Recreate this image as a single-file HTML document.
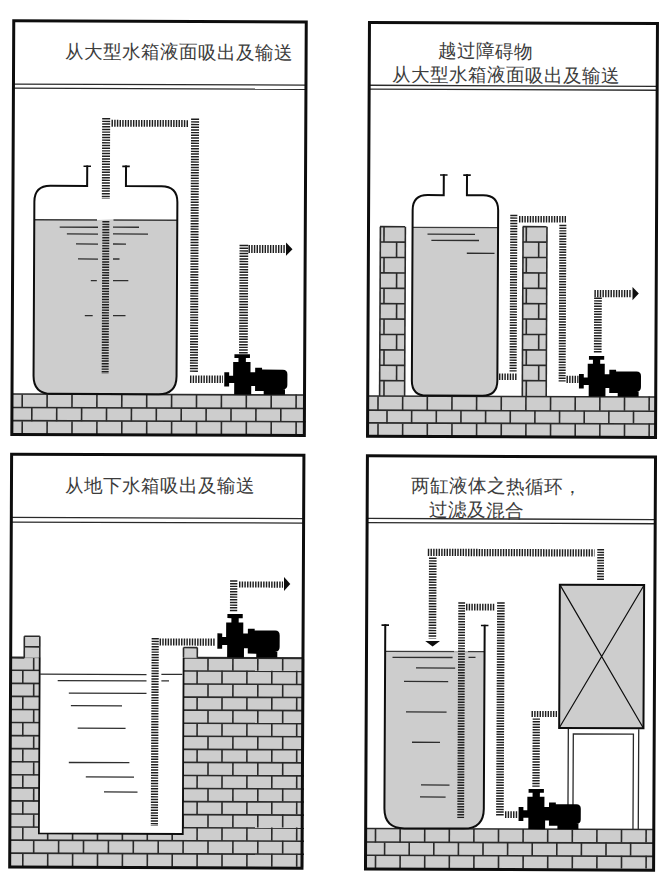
<!DOCTYPE html>
<html><head><meta charset="utf-8"><style>
html,body{margin:0;padding:0;background:#fff;width:669px;height:879px;overflow:hidden}
svg{display:block}
.t{font-family:"Liberation Sans",sans-serif;fill:#3c3c3c}
</style></head><body>
<svg width="669" height="879" viewBox="0 0 669 879">
<defs>
<g id="pump"><path d="M9.9,0 H25.2 V3.8 H21.2 V7.8 H25.8 V18 H30.4 V13.5 H37.2 V15.2 H57.7 Q62.2,15.2 62.2,19.7 V30.5 Q62.2,35 57.7,35 H59.9 V40.2 H38.9 V36.7 H30.4 V31.6 H25.8 H26.6 V40.2 H9.8 V28.8 H4.8 V32.2 H0 V18 H4.8 V21.4 H8.7 V7.8 H13.9 V3.8 H9.9 Z" fill="#000"/></g>
</defs>
<rect width="669" height="879" fill="#fff"/>
<g transform="matrix(1,0.0038,-0.0047,1,1.073,-0.604)">
<line x1="12.33" y1="84.60" x2="304.33" y2="84.60" stroke="#2a2a2a" stroke-width="1.3"/>
<line x1="12.34" y1="88.70" x2="304.34" y2="88.70" stroke="#2a2a2a" stroke-width="1.3"/>
<text x="64.16" y="58.43" class="t" style="font-size:18.6px">从大型水箱液面吸出及输送</text>
<rect x="13.38" y="394.50" width="293.00" height="40.00" fill="#cdcdcd"/>
<line x1="13.28" y1="394.50" x2="306.28" y2="394.50" stroke="#2a2a2a" stroke-width="1.6"/>
<line x1="13.35" y1="408.00" x2="306.35" y2="408.00" stroke="#2a2a2a" stroke-width="1.6"/>
<line x1="13.41" y1="421.20" x2="306.41" y2="421.20" stroke="#2a2a2a" stroke-width="1.6"/>
<line x1="23.01" y1="395.02" x2="23.01" y2="408.52" stroke="#2a2a2a" stroke-width="1.6"/>
<line x1="47.91" y1="394.93" x2="47.91" y2="408.43" stroke="#2a2a2a" stroke-width="1.6"/>
<line x1="72.81" y1="394.83" x2="72.81" y2="408.33" stroke="#2a2a2a" stroke-width="1.6"/>
<line x1="97.71" y1="394.74" x2="97.71" y2="408.24" stroke="#2a2a2a" stroke-width="1.6"/>
<line x1="122.61" y1="394.64" x2="122.61" y2="408.14" stroke="#2a2a2a" stroke-width="1.6"/>
<line x1="147.51" y1="394.55" x2="147.51" y2="408.05" stroke="#2a2a2a" stroke-width="1.6"/>
<line x1="172.41" y1="394.45" x2="172.41" y2="407.95" stroke="#2a2a2a" stroke-width="1.6"/>
<line x1="197.31" y1="394.36" x2="197.31" y2="407.86" stroke="#2a2a2a" stroke-width="1.6"/>
<line x1="222.21" y1="394.26" x2="222.21" y2="407.76" stroke="#2a2a2a" stroke-width="1.6"/>
<line x1="247.11" y1="394.17" x2="247.11" y2="407.67" stroke="#2a2a2a" stroke-width="1.6"/>
<line x1="272.01" y1="394.07" x2="272.01" y2="407.57" stroke="#2a2a2a" stroke-width="1.6"/>
<line x1="296.91" y1="393.98" x2="296.91" y2="407.48" stroke="#2a2a2a" stroke-width="1.6"/>
<line x1="32.68" y1="408.48" x2="32.68" y2="421.68" stroke="#2a2a2a" stroke-width="1.6"/>
<line x1="57.58" y1="408.39" x2="57.58" y2="421.59" stroke="#2a2a2a" stroke-width="1.6"/>
<line x1="82.48" y1="408.29" x2="82.48" y2="421.49" stroke="#2a2a2a" stroke-width="1.6"/>
<line x1="107.38" y1="408.20" x2="107.38" y2="421.40" stroke="#2a2a2a" stroke-width="1.6"/>
<line x1="132.28" y1="408.11" x2="132.28" y2="421.31" stroke="#2a2a2a" stroke-width="1.6"/>
<line x1="157.18" y1="408.01" x2="157.18" y2="421.21" stroke="#2a2a2a" stroke-width="1.6"/>
<line x1="182.08" y1="407.92" x2="182.08" y2="421.12" stroke="#2a2a2a" stroke-width="1.6"/>
<line x1="206.98" y1="407.82" x2="206.98" y2="421.02" stroke="#2a2a2a" stroke-width="1.6"/>
<line x1="231.88" y1="407.73" x2="231.88" y2="420.93" stroke="#2a2a2a" stroke-width="1.6"/>
<line x1="256.78" y1="407.63" x2="256.78" y2="420.83" stroke="#2a2a2a" stroke-width="1.6"/>
<line x1="281.68" y1="407.54" x2="281.68" y2="420.74" stroke="#2a2a2a" stroke-width="1.6"/>
<line x1="23.14" y1="421.72" x2="23.14" y2="435.02" stroke="#2a2a2a" stroke-width="1.6"/>
<line x1="48.04" y1="421.63" x2="48.04" y2="434.93" stroke="#2a2a2a" stroke-width="1.6"/>
<line x1="72.94" y1="421.53" x2="72.94" y2="434.83" stroke="#2a2a2a" stroke-width="1.6"/>
<line x1="97.84" y1="421.44" x2="97.84" y2="434.74" stroke="#2a2a2a" stroke-width="1.6"/>
<line x1="122.74" y1="421.34" x2="122.74" y2="434.64" stroke="#2a2a2a" stroke-width="1.6"/>
<line x1="147.64" y1="421.25" x2="147.64" y2="434.55" stroke="#2a2a2a" stroke-width="1.6"/>
<line x1="172.54" y1="421.15" x2="172.54" y2="434.45" stroke="#2a2a2a" stroke-width="1.6"/>
<line x1="197.44" y1="421.06" x2="197.44" y2="434.36" stroke="#2a2a2a" stroke-width="1.6"/>
<line x1="222.34" y1="420.96" x2="222.34" y2="434.26" stroke="#2a2a2a" stroke-width="1.6"/>
<line x1="247.24" y1="420.87" x2="247.24" y2="434.17" stroke="#2a2a2a" stroke-width="1.6"/>
<line x1="272.14" y1="420.77" x2="272.14" y2="434.07" stroke="#2a2a2a" stroke-width="1.6"/>
<line x1="297.04" y1="420.68" x2="297.04" y2="433.98" stroke="#2a2a2a" stroke-width="1.6"/>
<g transform="translate(0.245,0.203)">
<clipPath id="c1"><path d="M34.00,202.00 Q34.00,186.00 50.00,186.00 L161.00,186.00 Q177.00,186.00 177.00,202.00 L177.00,376.00 Q177.00,394.00 159.00,394.00 L52.00,394.00 Q34.00,394.00 34.00,376.00 Z"/></clipPath>
<rect x="33.00" y="220.00" width="145.00" height="175.00" fill="#cdcdcd" clip-path="url(#c1)"/>
<line x1="34.00" y1="220.00" x2="177.00" y2="220.00" stroke="#3a3a3a" stroke-width="1.3"/>
<path d="M86.70,165.50 L86.70,186.00 L50.00,186.00 Q34.00,186.00 34.00,202.00 L34.00,376.00 Q34.00,394.00 52.00,394.00 L159.00,394.00 Q177.00,394.00 177.00,376.00 L177.00,202.00 Q177.00,186.00 161.00,186.00 L125.50,186.00 L125.50,165.50" fill="none" stroke="#0d0d0d" stroke-width="2.0"/>
<line x1="82.95" y1="166.30" x2="90.45" y2="166.30" stroke="#0d0d0d" stroke-width="1.6"/>
<line x1="121.75" y1="166.30" x2="129.25" y2="166.30" stroke="#0d0d0d" stroke-width="1.6"/>
</g>
<g transform="translate(-0.039,0.205)"><rect x="97" y="219.1" width="16.5" height="0.9" fill="#fff"/><rect x="97" y="220" width="16.5" height="1" fill="#cdcdcd"/></g>
<line x1="59.70" y1="227.50" x2="98.00" y2="227.50" stroke="#2e2e2e" stroke-width="1.3"/>
<line x1="66.93" y1="234.29" x2="98.03" y2="234.29" stroke="#2e2e2e" stroke-width="1.3"/>
<line x1="76.07" y1="244.27" x2="98.07" y2="244.27" stroke="#2e2e2e" stroke-width="1.3"/>
<line x1="78.14" y1="259.27" x2="98.14" y2="259.27" stroke="#2e2e2e" stroke-width="1.3"/>
<line x1="91.05" y1="280.85" x2="97.05" y2="280.85" stroke="#2e2e2e" stroke-width="1.3"/>
<line x1="85.21" y1="315.97" x2="93.11" y2="315.97" stroke="#2e2e2e" stroke-width="1.3"/>
<line x1="113.00" y1="227.33" x2="139.00" y2="227.33" stroke="#2e2e2e" stroke-width="1.3"/>
<line x1="113.03" y1="234.11" x2="148.03" y2="234.11" stroke="#2e2e2e" stroke-width="1.3"/>
<line x1="113.07" y1="244.15" x2="126.07" y2="244.15" stroke="#2e2e2e" stroke-width="1.3"/>
<line x1="113.14" y1="259.16" x2="119.64" y2="259.16" stroke="#2e2e2e" stroke-width="1.3"/>
<line x1="113.25" y1="280.75" x2="128.55" y2="280.75" stroke="#2e2e2e" stroke-width="1.3"/>
<line x1="113.41" y1="315.85" x2="125.91" y2="315.85" stroke="#2e2e2e" stroke-width="1.3"/>
<line x1="105.67" y1="118.20" x2="105.67" y2="199.20" stroke="#1e1e1e" stroke-width="8.00" stroke-dasharray="1.45 1.23"/>
<line x1="105.83" y1="221.20" x2="105.83" y2="374.20" stroke="#1e1e1e" stroke-width="7.00" stroke-dasharray="1.45 1.23"/>
<line x1="111.01" y1="123.43" x2="188.51" y2="123.43" stroke="#1e1e1e" stroke-width="6.80" stroke-dasharray="1.45 1.23"/>
<line x1="194.58" y1="118.37" x2="194.58" y2="372.87" stroke="#1e1e1e" stroke-width="8.00" stroke-dasharray="1.45 1.23"/>
<line x1="190.71" y1="379.07" x2="223.71" y2="379.07" stroke="#1e1e1e" stroke-width="7.50" stroke-dasharray="1.45 1.23"/>
<line x1="243.98" y1="244.48" x2="243.98" y2="353.18" stroke="#1e1e1e" stroke-width="8.70" stroke-dasharray="1.45 1.23"/>
<line x1="248.60" y1="248.59" x2="285.60" y2="248.59" stroke="#1e1e1e" stroke-width="8.00" stroke-dasharray="1.45 1.23"/>
<polygon points="286.10,242.01 292.60,248.66 286.10,255.31" fill="#0d0d0d"/>
<use href="#pump" transform="translate(224.99,353.93) scale(1.0145,1.0025)"/>
<rect x="12.79" y="21.40" width="292.50" height="413.60" fill="none" stroke="#0d0d0d" stroke-width="3"/>
</g>
<g transform="matrix(1,0.0038,-0.0047,1,1.081,-1.948)">
<line x1="368.32" y1="85.80" x2="656.32" y2="85.80" stroke="#2a2a2a" stroke-width="1.3"/>
<line x1="368.34" y1="89.70" x2="656.34" y2="89.70" stroke="#2a2a2a" stroke-width="1.3"/>
<text x="437.65" y="57.60" class="t" style="font-size:18.6px">越过障碍物</text>
<text x="391.26" y="81.53" class="t" style="font-size:18.6px">从大型水箱液面吸出及输送</text>
<rect x="380.38" y="227.16" width="25.00" height="169.40" fill="#cdcdcd"/>
<line x1="379.98" y1="227.16" x2="404.98" y2="227.16" stroke="#2a2a2a" stroke-width="1.6"/>
<line x1="380.06" y1="242.56" x2="405.06" y2="242.56" stroke="#2a2a2a" stroke-width="1.6"/>
<line x1="380.13" y1="257.96" x2="405.13" y2="257.96" stroke="#2a2a2a" stroke-width="1.6"/>
<line x1="380.20" y1="273.36" x2="405.20" y2="273.36" stroke="#2a2a2a" stroke-width="1.6"/>
<line x1="380.27" y1="288.76" x2="405.27" y2="288.76" stroke="#2a2a2a" stroke-width="1.6"/>
<line x1="380.35" y1="304.16" x2="405.35" y2="304.16" stroke="#2a2a2a" stroke-width="1.6"/>
<line x1="380.42" y1="319.56" x2="405.42" y2="319.56" stroke="#2a2a2a" stroke-width="1.6"/>
<line x1="380.49" y1="334.96" x2="405.49" y2="334.96" stroke="#2a2a2a" stroke-width="1.6"/>
<line x1="380.56" y1="350.36" x2="405.56" y2="350.36" stroke="#2a2a2a" stroke-width="1.6"/>
<line x1="380.64" y1="365.76" x2="405.64" y2="365.76" stroke="#2a2a2a" stroke-width="1.6"/>
<line x1="380.71" y1="381.16" x2="405.71" y2="381.16" stroke="#2a2a2a" stroke-width="1.6"/>
<line x1="380.38" y1="227.20" x2="380.38" y2="396.60" stroke="#2a2a2a" stroke-width="1.6"/>
<line x1="405.38" y1="227.11" x2="405.38" y2="396.51" stroke="#2a2a2a" stroke-width="1.6"/>
<line x1="384.02" y1="227.19" x2="384.02" y2="242.59" stroke="#2a2a2a" stroke-width="1.6"/>
<line x1="396.69" y1="242.54" x2="396.69" y2="257.94" stroke="#2a2a2a" stroke-width="1.6"/>
<line x1="384.17" y1="257.99" x2="384.17" y2="273.39" stroke="#2a2a2a" stroke-width="1.6"/>
<line x1="396.84" y1="273.34" x2="396.84" y2="288.74" stroke="#2a2a2a" stroke-width="1.6"/>
<line x1="384.31" y1="288.79" x2="384.31" y2="304.19" stroke="#2a2a2a" stroke-width="1.6"/>
<line x1="396.98" y1="304.14" x2="396.98" y2="319.54" stroke="#2a2a2a" stroke-width="1.6"/>
<line x1="384.46" y1="319.59" x2="384.46" y2="334.99" stroke="#2a2a2a" stroke-width="1.6"/>
<line x1="397.13" y1="334.94" x2="397.13" y2="350.34" stroke="#2a2a2a" stroke-width="1.6"/>
<line x1="384.60" y1="350.39" x2="384.60" y2="365.79" stroke="#2a2a2a" stroke-width="1.6"/>
<line x1="397.27" y1="365.74" x2="397.27" y2="381.14" stroke="#2a2a2a" stroke-width="1.6"/>
<line x1="384.74" y1="381.19" x2="384.74" y2="396.59" stroke="#2a2a2a" stroke-width="1.6"/>
<rect x="523.08" y="226.62" width="23.90" height="169.40" fill="#cdcdcd"/>
<line x1="522.68" y1="226.62" x2="546.58" y2="226.62" stroke="#2a2a2a" stroke-width="1.6"/>
<line x1="522.76" y1="242.02" x2="546.66" y2="242.02" stroke="#2a2a2a" stroke-width="1.6"/>
<line x1="522.83" y1="257.42" x2="546.73" y2="257.42" stroke="#2a2a2a" stroke-width="1.6"/>
<line x1="522.90" y1="272.82" x2="546.80" y2="272.82" stroke="#2a2a2a" stroke-width="1.6"/>
<line x1="522.97" y1="288.22" x2="546.87" y2="288.22" stroke="#2a2a2a" stroke-width="1.6"/>
<line x1="523.05" y1="303.62" x2="546.95" y2="303.62" stroke="#2a2a2a" stroke-width="1.6"/>
<line x1="523.12" y1="319.02" x2="547.02" y2="319.02" stroke="#2a2a2a" stroke-width="1.6"/>
<line x1="523.19" y1="334.42" x2="547.09" y2="334.42" stroke="#2a2a2a" stroke-width="1.6"/>
<line x1="523.26" y1="349.82" x2="547.16" y2="349.82" stroke="#2a2a2a" stroke-width="1.6"/>
<line x1="523.34" y1="365.22" x2="547.24" y2="365.22" stroke="#2a2a2a" stroke-width="1.6"/>
<line x1="523.41" y1="380.62" x2="547.31" y2="380.62" stroke="#2a2a2a" stroke-width="1.6"/>
<line x1="523.08" y1="226.66" x2="523.08" y2="396.06" stroke="#2a2a2a" stroke-width="1.6"/>
<line x1="546.98" y1="226.57" x2="546.98" y2="395.97" stroke="#2a2a2a" stroke-width="1.6"/>
<line x1="526.32" y1="226.65" x2="526.32" y2="242.05" stroke="#2a2a2a" stroke-width="1.6"/>
<line x1="538.79" y1="242.00" x2="538.79" y2="257.40" stroke="#2a2a2a" stroke-width="1.6"/>
<line x1="526.47" y1="257.45" x2="526.47" y2="272.85" stroke="#2a2a2a" stroke-width="1.6"/>
<line x1="538.94" y1="272.80" x2="538.94" y2="288.20" stroke="#2a2a2a" stroke-width="1.6"/>
<line x1="526.61" y1="288.25" x2="526.61" y2="303.65" stroke="#2a2a2a" stroke-width="1.6"/>
<line x1="539.08" y1="303.60" x2="539.08" y2="319.00" stroke="#2a2a2a" stroke-width="1.6"/>
<line x1="526.76" y1="319.05" x2="526.76" y2="334.45" stroke="#2a2a2a" stroke-width="1.6"/>
<line x1="539.23" y1="334.40" x2="539.23" y2="349.80" stroke="#2a2a2a" stroke-width="1.6"/>
<line x1="526.90" y1="349.85" x2="526.90" y2="365.25" stroke="#2a2a2a" stroke-width="1.6"/>
<line x1="539.37" y1="365.20" x2="539.37" y2="380.60" stroke="#2a2a2a" stroke-width="1.6"/>
<line x1="527.04" y1="380.65" x2="527.04" y2="396.05" stroke="#2a2a2a" stroke-width="1.6"/>
<rect x="368.88" y="396.50" width="289.00" height="39.80" fill="#cdcdcd"/>
<line x1="368.78" y1="396.50" x2="657.78" y2="396.50" stroke="#2a2a2a" stroke-width="1.6"/>
<line x1="368.85" y1="410.70" x2="657.85" y2="410.70" stroke="#2a2a2a" stroke-width="1.6"/>
<line x1="368.91" y1="423.40" x2="657.91" y2="423.40" stroke="#2a2a2a" stroke-width="1.6"/>
<line x1="378.82" y1="397.01" x2="378.82" y2="411.21" stroke="#2a2a2a" stroke-width="1.6"/>
<line x1="403.47" y1="396.92" x2="403.47" y2="411.12" stroke="#2a2a2a" stroke-width="1.6"/>
<line x1="428.12" y1="396.82" x2="428.12" y2="411.02" stroke="#2a2a2a" stroke-width="1.6"/>
<line x1="452.77" y1="396.73" x2="452.77" y2="410.93" stroke="#2a2a2a" stroke-width="1.6"/>
<line x1="477.42" y1="396.64" x2="477.42" y2="410.84" stroke="#2a2a2a" stroke-width="1.6"/>
<line x1="502.07" y1="396.54" x2="502.07" y2="410.74" stroke="#2a2a2a" stroke-width="1.6"/>
<line x1="526.72" y1="396.45" x2="526.72" y2="410.65" stroke="#2a2a2a" stroke-width="1.6"/>
<line x1="551.37" y1="396.36" x2="551.37" y2="410.56" stroke="#2a2a2a" stroke-width="1.6"/>
<line x1="576.02" y1="396.26" x2="576.02" y2="410.46" stroke="#2a2a2a" stroke-width="1.6"/>
<line x1="600.67" y1="396.17" x2="600.67" y2="410.37" stroke="#2a2a2a" stroke-width="1.6"/>
<line x1="625.32" y1="396.07" x2="625.32" y2="410.27" stroke="#2a2a2a" stroke-width="1.6"/>
<line x1="649.97" y1="395.98" x2="649.97" y2="410.18" stroke="#2a2a2a" stroke-width="1.6"/>
<line x1="387.88" y1="411.18" x2="387.88" y2="423.88" stroke="#2a2a2a" stroke-width="1.6"/>
<line x1="412.53" y1="411.08" x2="412.53" y2="423.78" stroke="#2a2a2a" stroke-width="1.6"/>
<line x1="437.18" y1="410.99" x2="437.18" y2="423.69" stroke="#2a2a2a" stroke-width="1.6"/>
<line x1="461.83" y1="410.90" x2="461.83" y2="423.60" stroke="#2a2a2a" stroke-width="1.6"/>
<line x1="486.48" y1="410.80" x2="486.48" y2="423.50" stroke="#2a2a2a" stroke-width="1.6"/>
<line x1="511.13" y1="410.71" x2="511.13" y2="423.41" stroke="#2a2a2a" stroke-width="1.6"/>
<line x1="535.78" y1="410.61" x2="535.78" y2="423.31" stroke="#2a2a2a" stroke-width="1.6"/>
<line x1="560.43" y1="410.52" x2="560.43" y2="423.22" stroke="#2a2a2a" stroke-width="1.6"/>
<line x1="585.08" y1="410.43" x2="585.08" y2="423.13" stroke="#2a2a2a" stroke-width="1.6"/>
<line x1="609.73" y1="410.33" x2="609.73" y2="423.03" stroke="#2a2a2a" stroke-width="1.6"/>
<line x1="634.38" y1="410.24" x2="634.38" y2="422.94" stroke="#2a2a2a" stroke-width="1.6"/>
<line x1="378.94" y1="423.91" x2="378.94" y2="436.81" stroke="#2a2a2a" stroke-width="1.6"/>
<line x1="403.59" y1="423.82" x2="403.59" y2="436.72" stroke="#2a2a2a" stroke-width="1.6"/>
<line x1="428.24" y1="423.72" x2="428.24" y2="436.62" stroke="#2a2a2a" stroke-width="1.6"/>
<line x1="452.89" y1="423.63" x2="452.89" y2="436.53" stroke="#2a2a2a" stroke-width="1.6"/>
<line x1="477.54" y1="423.54" x2="477.54" y2="436.44" stroke="#2a2a2a" stroke-width="1.6"/>
<line x1="502.19" y1="423.44" x2="502.19" y2="436.34" stroke="#2a2a2a" stroke-width="1.6"/>
<line x1="526.84" y1="423.35" x2="526.84" y2="436.25" stroke="#2a2a2a" stroke-width="1.6"/>
<line x1="551.49" y1="423.26" x2="551.49" y2="436.16" stroke="#2a2a2a" stroke-width="1.6"/>
<line x1="576.14" y1="423.16" x2="576.14" y2="436.06" stroke="#2a2a2a" stroke-width="1.6"/>
<line x1="600.79" y1="423.07" x2="600.79" y2="435.97" stroke="#2a2a2a" stroke-width="1.6"/>
<line x1="625.44" y1="422.97" x2="625.44" y2="435.87" stroke="#2a2a2a" stroke-width="1.6"/>
<line x1="650.09" y1="422.88" x2="650.09" y2="435.78" stroke="#2a2a2a" stroke-width="1.6"/>
<g transform="translate(0.261,0.218)">
<clipPath id="c2"><path d="M412.30,210.20 Q412.30,195.20 427.30,195.20 L482.80,195.20 Q497.80,195.20 497.80,210.20 L497.80,380.70 Q497.80,395.70 482.80,395.70 L427.30,395.70 Q412.30,395.70 412.30,380.70 Z"/></clipPath>
<rect x="411.30" y="227.50" width="87.50" height="169.20" fill="#cdcdcd" clip-path="url(#c2)"/>
<line x1="412.30" y1="227.50" x2="497.80" y2="227.50" stroke="#3a3a3a" stroke-width="1.3"/>
<path d="M443.30,174.30 L443.30,195.20 L427.30,195.20 Q412.30,195.20 412.30,210.20 L412.30,380.70 Q412.30,395.70 427.30,395.70 L482.80,395.70 Q497.80,395.70 497.80,380.70 L497.80,210.20 Q497.80,195.20 482.80,195.20 L466.50,195.20 L466.50,174.30" fill="none" stroke="#0d0d0d" stroke-width="2.0"/>
<line x1="439.55" y1="175.10" x2="447.05" y2="175.10" stroke="#0d0d0d" stroke-width="1.6"/>
<line x1="462.75" y1="175.10" x2="470.25" y2="175.10" stroke="#0d0d0d" stroke-width="1.6"/>
</g>
<line x1="427.52" y1="234.53" x2="475.02" y2="234.53" stroke="#2e2e2e" stroke-width="1.3"/>
<line x1="431.45" y1="240.62" x2="479.05" y2="240.62" stroke="#2e2e2e" stroke-width="1.3"/>
<line x1="466.91" y1="253.42" x2="494.61" y2="253.42" stroke="#2e2e2e" stroke-width="1.3"/>
<line x1="499.69" y1="376.77" x2="517.39" y2="376.77" stroke="#1e1e1e" stroke-width="6.50" stroke-dasharray="1.45 1.23"/>
<line x1="513.75" y1="214.70" x2="513.75" y2="371.50" stroke="#1e1e1e" stroke-width="7.10" stroke-dasharray="1.45 1.23"/>
<line x1="518.95" y1="219.14" x2="565.95" y2="219.14" stroke="#1e1e1e" stroke-width="6.50" stroke-dasharray="1.45 1.23"/>
<line x1="562.84" y1="224.61" x2="562.84" y2="381.31" stroke="#1e1e1e" stroke-width="7.00" stroke-dasharray="1.45 1.23"/>
<line x1="567.20" y1="379.12" x2="579.20" y2="379.12" stroke="#1e1e1e" stroke-width="7.30" stroke-dasharray="1.45 1.23"/>
<line x1="598.30" y1="297.18" x2="598.30" y2="352.68" stroke="#1e1e1e" stroke-width="7.70" stroke-dasharray="1.45 1.23"/>
<line x1="594.70" y1="293.27" x2="632.30" y2="293.27" stroke="#1e1e1e" stroke-width="7.30" stroke-dasharray="1.45 1.23"/>
<polygon points="632.80,286.53 639.10,293.13 632.80,299.73" fill="#0d0d0d"/>
<use href="#pump" transform="translate(579.69,355.63) scale(0.9968,1.0100)"/>
<rect x="368.50" y="22.93" width="288.00" height="413.95" fill="none" stroke="#0d0d0d" stroke-width="3"/>
</g>
<g transform="matrix(1,0.0038,-0.0047,1,3.108,-0.596)">
<line x1="10.33" y1="518.00" x2="302.33" y2="518.00" stroke="#2a2a2a" stroke-width="1.3"/>
<line x1="10.35" y1="522.60" x2="302.35" y2="522.60" stroke="#2a2a2a" stroke-width="1.3"/>
<text x="64.16" y="492.00" class="t" style="font-size:18.6px">从地下水箱吸出及输送</text>
<rect x="10.48" y="657.80" width="294.00" height="208.96" fill="#cdcdcd"/>
<line x1="9.98" y1="657.80" x2="303.98" y2="657.80" stroke="#2a2a2a" stroke-width="1.6"/>
<line x1="10.05" y1="670.86" x2="304.05" y2="670.86" stroke="#2a2a2a" stroke-width="1.6"/>
<line x1="10.11" y1="683.92" x2="304.11" y2="683.92" stroke="#2a2a2a" stroke-width="1.6"/>
<line x1="10.17" y1="696.98" x2="304.17" y2="696.98" stroke="#2a2a2a" stroke-width="1.6"/>
<line x1="10.23" y1="710.04" x2="304.23" y2="710.04" stroke="#2a2a2a" stroke-width="1.6"/>
<line x1="10.29" y1="723.10" x2="304.29" y2="723.10" stroke="#2a2a2a" stroke-width="1.6"/>
<line x1="10.35" y1="736.16" x2="304.35" y2="736.16" stroke="#2a2a2a" stroke-width="1.6"/>
<line x1="10.41" y1="749.22" x2="304.41" y2="749.22" stroke="#2a2a2a" stroke-width="1.6"/>
<line x1="10.48" y1="762.28" x2="304.48" y2="762.28" stroke="#2a2a2a" stroke-width="1.6"/>
<line x1="10.54" y1="775.34" x2="304.54" y2="775.34" stroke="#2a2a2a" stroke-width="1.6"/>
<line x1="10.60" y1="788.40" x2="304.60" y2="788.40" stroke="#2a2a2a" stroke-width="1.6"/>
<line x1="10.66" y1="801.46" x2="304.66" y2="801.46" stroke="#2a2a2a" stroke-width="1.6"/>
<line x1="10.72" y1="814.52" x2="304.72" y2="814.52" stroke="#2a2a2a" stroke-width="1.6"/>
<line x1="10.78" y1="827.58" x2="304.78" y2="827.58" stroke="#2a2a2a" stroke-width="1.6"/>
<line x1="10.84" y1="840.64" x2="304.84" y2="840.64" stroke="#2a2a2a" stroke-width="1.6"/>
<line x1="10.90" y1="853.70" x2="304.90" y2="853.70" stroke="#2a2a2a" stroke-width="1.6"/>
<line x1="33.71" y1="658.27" x2="33.71" y2="671.33" stroke="#2a2a2a" stroke-width="1.6"/>
<line x1="58.61" y1="658.17" x2="58.61" y2="671.23" stroke="#2a2a2a" stroke-width="1.6"/>
<line x1="83.51" y1="658.08" x2="83.51" y2="671.14" stroke="#2a2a2a" stroke-width="1.6"/>
<line x1="108.41" y1="657.98" x2="108.41" y2="671.04" stroke="#2a2a2a" stroke-width="1.6"/>
<line x1="133.31" y1="657.89" x2="133.31" y2="670.95" stroke="#2a2a2a" stroke-width="1.6"/>
<line x1="158.21" y1="657.79" x2="158.21" y2="670.85" stroke="#2a2a2a" stroke-width="1.6"/>
<line x1="183.11" y1="657.70" x2="183.11" y2="670.76" stroke="#2a2a2a" stroke-width="1.6"/>
<line x1="208.01" y1="657.61" x2="208.01" y2="670.67" stroke="#2a2a2a" stroke-width="1.6"/>
<line x1="232.91" y1="657.51" x2="232.91" y2="670.57" stroke="#2a2a2a" stroke-width="1.6"/>
<line x1="257.81" y1="657.42" x2="257.81" y2="670.48" stroke="#2a2a2a" stroke-width="1.6"/>
<line x1="282.71" y1="657.32" x2="282.71" y2="670.38" stroke="#2a2a2a" stroke-width="1.6"/>
<line x1="22.88" y1="671.37" x2="22.88" y2="684.43" stroke="#2a2a2a" stroke-width="1.6"/>
<line x1="47.78" y1="671.27" x2="47.78" y2="684.33" stroke="#2a2a2a" stroke-width="1.6"/>
<line x1="72.68" y1="671.18" x2="72.68" y2="684.24" stroke="#2a2a2a" stroke-width="1.6"/>
<line x1="97.58" y1="671.09" x2="97.58" y2="684.15" stroke="#2a2a2a" stroke-width="1.6"/>
<line x1="122.48" y1="670.99" x2="122.48" y2="684.05" stroke="#2a2a2a" stroke-width="1.6"/>
<line x1="147.38" y1="670.90" x2="147.38" y2="683.96" stroke="#2a2a2a" stroke-width="1.6"/>
<line x1="172.28" y1="670.80" x2="172.28" y2="683.86" stroke="#2a2a2a" stroke-width="1.6"/>
<line x1="197.18" y1="670.71" x2="197.18" y2="683.77" stroke="#2a2a2a" stroke-width="1.6"/>
<line x1="222.08" y1="670.61" x2="222.08" y2="683.67" stroke="#2a2a2a" stroke-width="1.6"/>
<line x1="246.98" y1="670.52" x2="246.98" y2="683.58" stroke="#2a2a2a" stroke-width="1.6"/>
<line x1="271.88" y1="670.42" x2="271.88" y2="683.48" stroke="#2a2a2a" stroke-width="1.6"/>
<line x1="296.78" y1="670.33" x2="296.78" y2="683.39" stroke="#2a2a2a" stroke-width="1.6"/>
<line x1="33.84" y1="684.39" x2="33.84" y2="697.45" stroke="#2a2a2a" stroke-width="1.6"/>
<line x1="58.74" y1="684.29" x2="58.74" y2="697.35" stroke="#2a2a2a" stroke-width="1.6"/>
<line x1="83.64" y1="684.20" x2="83.64" y2="697.26" stroke="#2a2a2a" stroke-width="1.6"/>
<line x1="108.54" y1="684.10" x2="108.54" y2="697.16" stroke="#2a2a2a" stroke-width="1.6"/>
<line x1="133.44" y1="684.01" x2="133.44" y2="697.07" stroke="#2a2a2a" stroke-width="1.6"/>
<line x1="158.34" y1="683.91" x2="158.34" y2="696.97" stroke="#2a2a2a" stroke-width="1.6"/>
<line x1="183.24" y1="683.82" x2="183.24" y2="696.88" stroke="#2a2a2a" stroke-width="1.6"/>
<line x1="208.14" y1="683.73" x2="208.14" y2="696.79" stroke="#2a2a2a" stroke-width="1.6"/>
<line x1="233.04" y1="683.63" x2="233.04" y2="696.69" stroke="#2a2a2a" stroke-width="1.6"/>
<line x1="257.94" y1="683.54" x2="257.94" y2="696.60" stroke="#2a2a2a" stroke-width="1.6"/>
<line x1="282.84" y1="683.44" x2="282.84" y2="696.50" stroke="#2a2a2a" stroke-width="1.6"/>
<line x1="23.00" y1="697.49" x2="23.00" y2="710.55" stroke="#2a2a2a" stroke-width="1.6"/>
<line x1="47.90" y1="697.39" x2="47.90" y2="710.45" stroke="#2a2a2a" stroke-width="1.6"/>
<line x1="72.80" y1="697.30" x2="72.80" y2="710.36" stroke="#2a2a2a" stroke-width="1.6"/>
<line x1="97.70" y1="697.21" x2="97.70" y2="710.27" stroke="#2a2a2a" stroke-width="1.6"/>
<line x1="122.60" y1="697.11" x2="122.60" y2="710.17" stroke="#2a2a2a" stroke-width="1.6"/>
<line x1="147.50" y1="697.02" x2="147.50" y2="710.08" stroke="#2a2a2a" stroke-width="1.6"/>
<line x1="172.40" y1="696.92" x2="172.40" y2="709.98" stroke="#2a2a2a" stroke-width="1.6"/>
<line x1="197.30" y1="696.83" x2="197.30" y2="709.89" stroke="#2a2a2a" stroke-width="1.6"/>
<line x1="222.20" y1="696.73" x2="222.20" y2="709.79" stroke="#2a2a2a" stroke-width="1.6"/>
<line x1="247.10" y1="696.64" x2="247.10" y2="709.70" stroke="#2a2a2a" stroke-width="1.6"/>
<line x1="272.00" y1="696.54" x2="272.00" y2="709.60" stroke="#2a2a2a" stroke-width="1.6"/>
<line x1="296.90" y1="696.45" x2="296.90" y2="709.51" stroke="#2a2a2a" stroke-width="1.6"/>
<line x1="33.96" y1="710.51" x2="33.96" y2="723.57" stroke="#2a2a2a" stroke-width="1.6"/>
<line x1="58.86" y1="710.41" x2="58.86" y2="723.47" stroke="#2a2a2a" stroke-width="1.6"/>
<line x1="83.76" y1="710.32" x2="83.76" y2="723.38" stroke="#2a2a2a" stroke-width="1.6"/>
<line x1="108.66" y1="710.22" x2="108.66" y2="723.28" stroke="#2a2a2a" stroke-width="1.6"/>
<line x1="133.56" y1="710.13" x2="133.56" y2="723.19" stroke="#2a2a2a" stroke-width="1.6"/>
<line x1="158.46" y1="710.03" x2="158.46" y2="723.09" stroke="#2a2a2a" stroke-width="1.6"/>
<line x1="183.36" y1="709.94" x2="183.36" y2="723.00" stroke="#2a2a2a" stroke-width="1.6"/>
<line x1="208.26" y1="709.85" x2="208.26" y2="722.91" stroke="#2a2a2a" stroke-width="1.6"/>
<line x1="233.16" y1="709.75" x2="233.16" y2="722.81" stroke="#2a2a2a" stroke-width="1.6"/>
<line x1="258.06" y1="709.66" x2="258.06" y2="722.72" stroke="#2a2a2a" stroke-width="1.6"/>
<line x1="282.96" y1="709.56" x2="282.96" y2="722.62" stroke="#2a2a2a" stroke-width="1.6"/>
<line x1="23.12" y1="723.61" x2="23.12" y2="736.67" stroke="#2a2a2a" stroke-width="1.6"/>
<line x1="48.02" y1="723.51" x2="48.02" y2="736.57" stroke="#2a2a2a" stroke-width="1.6"/>
<line x1="72.92" y1="723.42" x2="72.92" y2="736.48" stroke="#2a2a2a" stroke-width="1.6"/>
<line x1="97.82" y1="723.33" x2="97.82" y2="736.39" stroke="#2a2a2a" stroke-width="1.6"/>
<line x1="122.72" y1="723.23" x2="122.72" y2="736.29" stroke="#2a2a2a" stroke-width="1.6"/>
<line x1="147.62" y1="723.14" x2="147.62" y2="736.20" stroke="#2a2a2a" stroke-width="1.6"/>
<line x1="172.52" y1="723.04" x2="172.52" y2="736.10" stroke="#2a2a2a" stroke-width="1.6"/>
<line x1="197.42" y1="722.95" x2="197.42" y2="736.01" stroke="#2a2a2a" stroke-width="1.6"/>
<line x1="222.32" y1="722.85" x2="222.32" y2="735.91" stroke="#2a2a2a" stroke-width="1.6"/>
<line x1="247.22" y1="722.76" x2="247.22" y2="735.82" stroke="#2a2a2a" stroke-width="1.6"/>
<line x1="272.12" y1="722.66" x2="272.12" y2="735.72" stroke="#2a2a2a" stroke-width="1.6"/>
<line x1="297.02" y1="722.57" x2="297.02" y2="735.63" stroke="#2a2a2a" stroke-width="1.6"/>
<line x1="34.08" y1="736.63" x2="34.08" y2="749.69" stroke="#2a2a2a" stroke-width="1.6"/>
<line x1="58.98" y1="736.53" x2="58.98" y2="749.59" stroke="#2a2a2a" stroke-width="1.6"/>
<line x1="83.88" y1="736.44" x2="83.88" y2="749.50" stroke="#2a2a2a" stroke-width="1.6"/>
<line x1="108.78" y1="736.34" x2="108.78" y2="749.40" stroke="#2a2a2a" stroke-width="1.6"/>
<line x1="133.68" y1="736.25" x2="133.68" y2="749.31" stroke="#2a2a2a" stroke-width="1.6"/>
<line x1="158.58" y1="736.15" x2="158.58" y2="749.21" stroke="#2a2a2a" stroke-width="1.6"/>
<line x1="183.48" y1="736.06" x2="183.48" y2="749.12" stroke="#2a2a2a" stroke-width="1.6"/>
<line x1="208.38" y1="735.97" x2="208.38" y2="749.03" stroke="#2a2a2a" stroke-width="1.6"/>
<line x1="233.28" y1="735.87" x2="233.28" y2="748.93" stroke="#2a2a2a" stroke-width="1.6"/>
<line x1="258.18" y1="735.78" x2="258.18" y2="748.84" stroke="#2a2a2a" stroke-width="1.6"/>
<line x1="283.08" y1="735.68" x2="283.08" y2="748.74" stroke="#2a2a2a" stroke-width="1.6"/>
<line x1="23.24" y1="749.73" x2="23.24" y2="762.79" stroke="#2a2a2a" stroke-width="1.6"/>
<line x1="48.14" y1="749.63" x2="48.14" y2="762.69" stroke="#2a2a2a" stroke-width="1.6"/>
<line x1="73.04" y1="749.54" x2="73.04" y2="762.60" stroke="#2a2a2a" stroke-width="1.6"/>
<line x1="97.94" y1="749.45" x2="97.94" y2="762.51" stroke="#2a2a2a" stroke-width="1.6"/>
<line x1="122.84" y1="749.35" x2="122.84" y2="762.41" stroke="#2a2a2a" stroke-width="1.6"/>
<line x1="147.74" y1="749.26" x2="147.74" y2="762.32" stroke="#2a2a2a" stroke-width="1.6"/>
<line x1="172.64" y1="749.16" x2="172.64" y2="762.22" stroke="#2a2a2a" stroke-width="1.6"/>
<line x1="197.54" y1="749.07" x2="197.54" y2="762.13" stroke="#2a2a2a" stroke-width="1.6"/>
<line x1="222.44" y1="748.97" x2="222.44" y2="762.03" stroke="#2a2a2a" stroke-width="1.6"/>
<line x1="247.34" y1="748.88" x2="247.34" y2="761.94" stroke="#2a2a2a" stroke-width="1.6"/>
<line x1="272.24" y1="748.78" x2="272.24" y2="761.84" stroke="#2a2a2a" stroke-width="1.6"/>
<line x1="297.14" y1="748.69" x2="297.14" y2="761.75" stroke="#2a2a2a" stroke-width="1.6"/>
<line x1="34.21" y1="762.75" x2="34.21" y2="775.81" stroke="#2a2a2a" stroke-width="1.6"/>
<line x1="59.11" y1="762.65" x2="59.11" y2="775.71" stroke="#2a2a2a" stroke-width="1.6"/>
<line x1="84.01" y1="762.56" x2="84.01" y2="775.62" stroke="#2a2a2a" stroke-width="1.6"/>
<line x1="108.91" y1="762.46" x2="108.91" y2="775.52" stroke="#2a2a2a" stroke-width="1.6"/>
<line x1="133.81" y1="762.37" x2="133.81" y2="775.43" stroke="#2a2a2a" stroke-width="1.6"/>
<line x1="158.71" y1="762.27" x2="158.71" y2="775.33" stroke="#2a2a2a" stroke-width="1.6"/>
<line x1="183.61" y1="762.18" x2="183.61" y2="775.24" stroke="#2a2a2a" stroke-width="1.6"/>
<line x1="208.51" y1="762.09" x2="208.51" y2="775.15" stroke="#2a2a2a" stroke-width="1.6"/>
<line x1="233.41" y1="761.99" x2="233.41" y2="775.05" stroke="#2a2a2a" stroke-width="1.6"/>
<line x1="258.31" y1="761.90" x2="258.31" y2="774.96" stroke="#2a2a2a" stroke-width="1.6"/>
<line x1="283.21" y1="761.80" x2="283.21" y2="774.86" stroke="#2a2a2a" stroke-width="1.6"/>
<line x1="23.37" y1="775.85" x2="23.37" y2="788.91" stroke="#2a2a2a" stroke-width="1.6"/>
<line x1="48.27" y1="775.75" x2="48.27" y2="788.81" stroke="#2a2a2a" stroke-width="1.6"/>
<line x1="73.17" y1="775.66" x2="73.17" y2="788.72" stroke="#2a2a2a" stroke-width="1.6"/>
<line x1="98.07" y1="775.57" x2="98.07" y2="788.63" stroke="#2a2a2a" stroke-width="1.6"/>
<line x1="122.97" y1="775.47" x2="122.97" y2="788.53" stroke="#2a2a2a" stroke-width="1.6"/>
<line x1="147.87" y1="775.38" x2="147.87" y2="788.44" stroke="#2a2a2a" stroke-width="1.6"/>
<line x1="172.77" y1="775.28" x2="172.77" y2="788.34" stroke="#2a2a2a" stroke-width="1.6"/>
<line x1="197.67" y1="775.19" x2="197.67" y2="788.25" stroke="#2a2a2a" stroke-width="1.6"/>
<line x1="222.57" y1="775.09" x2="222.57" y2="788.15" stroke="#2a2a2a" stroke-width="1.6"/>
<line x1="247.47" y1="775.00" x2="247.47" y2="788.06" stroke="#2a2a2a" stroke-width="1.6"/>
<line x1="272.37" y1="774.90" x2="272.37" y2="787.96" stroke="#2a2a2a" stroke-width="1.6"/>
<line x1="297.27" y1="774.81" x2="297.27" y2="787.87" stroke="#2a2a2a" stroke-width="1.6"/>
<line x1="34.33" y1="788.87" x2="34.33" y2="801.93" stroke="#2a2a2a" stroke-width="1.6"/>
<line x1="59.23" y1="788.77" x2="59.23" y2="801.83" stroke="#2a2a2a" stroke-width="1.6"/>
<line x1="84.13" y1="788.68" x2="84.13" y2="801.74" stroke="#2a2a2a" stroke-width="1.6"/>
<line x1="109.03" y1="788.58" x2="109.03" y2="801.64" stroke="#2a2a2a" stroke-width="1.6"/>
<line x1="133.93" y1="788.49" x2="133.93" y2="801.55" stroke="#2a2a2a" stroke-width="1.6"/>
<line x1="158.83" y1="788.39" x2="158.83" y2="801.45" stroke="#2a2a2a" stroke-width="1.6"/>
<line x1="183.73" y1="788.30" x2="183.73" y2="801.36" stroke="#2a2a2a" stroke-width="1.6"/>
<line x1="208.63" y1="788.21" x2="208.63" y2="801.27" stroke="#2a2a2a" stroke-width="1.6"/>
<line x1="233.53" y1="788.11" x2="233.53" y2="801.17" stroke="#2a2a2a" stroke-width="1.6"/>
<line x1="258.43" y1="788.02" x2="258.43" y2="801.08" stroke="#2a2a2a" stroke-width="1.6"/>
<line x1="283.33" y1="787.92" x2="283.33" y2="800.98" stroke="#2a2a2a" stroke-width="1.6"/>
<line x1="23.49" y1="801.97" x2="23.49" y2="815.03" stroke="#2a2a2a" stroke-width="1.6"/>
<line x1="48.39" y1="801.87" x2="48.39" y2="814.93" stroke="#2a2a2a" stroke-width="1.6"/>
<line x1="73.29" y1="801.78" x2="73.29" y2="814.84" stroke="#2a2a2a" stroke-width="1.6"/>
<line x1="98.19" y1="801.69" x2="98.19" y2="814.75" stroke="#2a2a2a" stroke-width="1.6"/>
<line x1="123.09" y1="801.59" x2="123.09" y2="814.65" stroke="#2a2a2a" stroke-width="1.6"/>
<line x1="147.99" y1="801.50" x2="147.99" y2="814.56" stroke="#2a2a2a" stroke-width="1.6"/>
<line x1="172.89" y1="801.40" x2="172.89" y2="814.46" stroke="#2a2a2a" stroke-width="1.6"/>
<line x1="197.79" y1="801.31" x2="197.79" y2="814.37" stroke="#2a2a2a" stroke-width="1.6"/>
<line x1="222.69" y1="801.21" x2="222.69" y2="814.27" stroke="#2a2a2a" stroke-width="1.6"/>
<line x1="247.59" y1="801.12" x2="247.59" y2="814.18" stroke="#2a2a2a" stroke-width="1.6"/>
<line x1="272.49" y1="801.02" x2="272.49" y2="814.08" stroke="#2a2a2a" stroke-width="1.6"/>
<line x1="297.39" y1="800.93" x2="297.39" y2="813.99" stroke="#2a2a2a" stroke-width="1.6"/>
<line x1="34.45" y1="814.99" x2="34.45" y2="828.05" stroke="#2a2a2a" stroke-width="1.6"/>
<line x1="59.35" y1="814.89" x2="59.35" y2="827.95" stroke="#2a2a2a" stroke-width="1.6"/>
<line x1="84.25" y1="814.80" x2="84.25" y2="827.86" stroke="#2a2a2a" stroke-width="1.6"/>
<line x1="109.15" y1="814.70" x2="109.15" y2="827.76" stroke="#2a2a2a" stroke-width="1.6"/>
<line x1="134.05" y1="814.61" x2="134.05" y2="827.67" stroke="#2a2a2a" stroke-width="1.6"/>
<line x1="158.95" y1="814.51" x2="158.95" y2="827.57" stroke="#2a2a2a" stroke-width="1.6"/>
<line x1="183.85" y1="814.42" x2="183.85" y2="827.48" stroke="#2a2a2a" stroke-width="1.6"/>
<line x1="208.75" y1="814.33" x2="208.75" y2="827.39" stroke="#2a2a2a" stroke-width="1.6"/>
<line x1="233.65" y1="814.23" x2="233.65" y2="827.29" stroke="#2a2a2a" stroke-width="1.6"/>
<line x1="258.55" y1="814.14" x2="258.55" y2="827.20" stroke="#2a2a2a" stroke-width="1.6"/>
<line x1="283.45" y1="814.04" x2="283.45" y2="827.10" stroke="#2a2a2a" stroke-width="1.6"/>
<line x1="23.61" y1="828.09" x2="23.61" y2="841.15" stroke="#2a2a2a" stroke-width="1.6"/>
<line x1="48.51" y1="827.99" x2="48.51" y2="841.05" stroke="#2a2a2a" stroke-width="1.6"/>
<line x1="73.41" y1="827.90" x2="73.41" y2="840.96" stroke="#2a2a2a" stroke-width="1.6"/>
<line x1="98.31" y1="827.81" x2="98.31" y2="840.87" stroke="#2a2a2a" stroke-width="1.6"/>
<line x1="123.21" y1="827.71" x2="123.21" y2="840.77" stroke="#2a2a2a" stroke-width="1.6"/>
<line x1="148.11" y1="827.62" x2="148.11" y2="840.68" stroke="#2a2a2a" stroke-width="1.6"/>
<line x1="173.01" y1="827.52" x2="173.01" y2="840.58" stroke="#2a2a2a" stroke-width="1.6"/>
<line x1="197.91" y1="827.43" x2="197.91" y2="840.49" stroke="#2a2a2a" stroke-width="1.6"/>
<line x1="222.81" y1="827.33" x2="222.81" y2="840.39" stroke="#2a2a2a" stroke-width="1.6"/>
<line x1="247.71" y1="827.24" x2="247.71" y2="840.30" stroke="#2a2a2a" stroke-width="1.6"/>
<line x1="272.61" y1="827.14" x2="272.61" y2="840.20" stroke="#2a2a2a" stroke-width="1.6"/>
<line x1="297.51" y1="827.05" x2="297.51" y2="840.11" stroke="#2a2a2a" stroke-width="1.6"/>
<line x1="34.57" y1="841.11" x2="34.57" y2="854.17" stroke="#2a2a2a" stroke-width="1.6"/>
<line x1="59.47" y1="841.01" x2="59.47" y2="854.07" stroke="#2a2a2a" stroke-width="1.6"/>
<line x1="84.37" y1="840.92" x2="84.37" y2="853.98" stroke="#2a2a2a" stroke-width="1.6"/>
<line x1="109.27" y1="840.82" x2="109.27" y2="853.88" stroke="#2a2a2a" stroke-width="1.6"/>
<line x1="134.17" y1="840.73" x2="134.17" y2="853.79" stroke="#2a2a2a" stroke-width="1.6"/>
<line x1="159.07" y1="840.63" x2="159.07" y2="853.69" stroke="#2a2a2a" stroke-width="1.6"/>
<line x1="183.97" y1="840.54" x2="183.97" y2="853.60" stroke="#2a2a2a" stroke-width="1.6"/>
<line x1="208.87" y1="840.45" x2="208.87" y2="853.51" stroke="#2a2a2a" stroke-width="1.6"/>
<line x1="233.77" y1="840.35" x2="233.77" y2="853.41" stroke="#2a2a2a" stroke-width="1.6"/>
<line x1="258.67" y1="840.26" x2="258.67" y2="853.32" stroke="#2a2a2a" stroke-width="1.6"/>
<line x1="283.57" y1="840.16" x2="283.57" y2="853.22" stroke="#2a2a2a" stroke-width="1.6"/>
<line x1="23.74" y1="854.21" x2="23.74" y2="867.27" stroke="#2a2a2a" stroke-width="1.6"/>
<line x1="48.64" y1="854.11" x2="48.64" y2="867.17" stroke="#2a2a2a" stroke-width="1.6"/>
<line x1="73.54" y1="854.02" x2="73.54" y2="867.08" stroke="#2a2a2a" stroke-width="1.6"/>
<line x1="98.44" y1="853.93" x2="98.44" y2="866.99" stroke="#2a2a2a" stroke-width="1.6"/>
<line x1="123.34" y1="853.83" x2="123.34" y2="866.89" stroke="#2a2a2a" stroke-width="1.6"/>
<line x1="148.24" y1="853.74" x2="148.24" y2="866.80" stroke="#2a2a2a" stroke-width="1.6"/>
<line x1="173.14" y1="853.64" x2="173.14" y2="866.70" stroke="#2a2a2a" stroke-width="1.6"/>
<line x1="198.04" y1="853.55" x2="198.04" y2="866.61" stroke="#2a2a2a" stroke-width="1.6"/>
<line x1="222.94" y1="853.45" x2="222.94" y2="866.51" stroke="#2a2a2a" stroke-width="1.6"/>
<line x1="247.84" y1="853.36" x2="247.84" y2="866.42" stroke="#2a2a2a" stroke-width="1.6"/>
<line x1="272.74" y1="853.26" x2="272.74" y2="866.32" stroke="#2a2a2a" stroke-width="1.6"/>
<line x1="297.64" y1="853.17" x2="297.64" y2="866.23" stroke="#2a2a2a" stroke-width="1.6"/>
<g transform="translate(0.356,0.174)"><rect x="39.3" y="640" width="143.9" height="193.7" fill="#fff"/></g>
<rect x="24.23" y="636.77" width="15.50" height="21.50" fill="#cdcdcd"/>
<line x1="24.18" y1="636.77" x2="39.68" y2="636.77" stroke="#2a2a2a" stroke-width="1.6"/>
<line x1="24.23" y1="647.27" x2="39.73" y2="647.27" stroke="#2a2a2a" stroke-width="1.6"/>
<line x1="24.23" y1="636.80" x2="24.23" y2="658.30" stroke="#2a2a2a" stroke-width="1.6"/>
<line x1="39.73" y1="636.74" x2="39.73" y2="658.24" stroke="#2a2a2a" stroke-width="1.6"/>
<rect x="183.46" y="647.47" width="13.80" height="10.20" fill="#cdcdcd"/>
<line x1="183.44" y1="647.47" x2="197.24" y2="647.47" stroke="#2a2a2a" stroke-width="1.6"/>
<line x1="183.46" y1="647.50" x2="183.46" y2="657.70" stroke="#2a2a2a" stroke-width="1.6"/>
<line x1="197.26" y1="647.45" x2="197.26" y2="657.65" stroke="#2a2a2a" stroke-width="1.6"/>
<line x1="9.98" y1="658.33" x2="24.28" y2="658.33" stroke="#2a2a2a" stroke-width="1.6"/>
<line x1="197.28" y1="657.44" x2="303.98" y2="657.44" stroke="#2a2a2a" stroke-width="1.6"/>
<g transform="translate(0.394,0.174)"><path d="M39.3,657.8 L39.3,833.7 L183.2,833.7 L183.2,657.8" fill="none" stroke="#0d0d0d" stroke-width="1.8"/></g>
<line x1="40.06" y1="674.64" x2="146.56" y2="674.64" stroke="#2e2e2e" stroke-width="1.3"/>
<line x1="161.46" y1="674.34" x2="182.46" y2="674.34" stroke="#2e2e2e" stroke-width="1.3"/>
<line x1="57.79" y1="681.01" x2="146.59" y2="681.01" stroke="#2e2e2e" stroke-width="1.3"/>
<line x1="68.95" y1="693.39" x2="146.65" y2="693.39" stroke="#2e2e2e" stroke-width="1.3"/>
<line x1="71.11" y1="706.03" x2="122.21" y2="706.03" stroke="#2e2e2e" stroke-width="1.3"/>
<line x1="78.01" y1="728.41" x2="125.91" y2="728.41" stroke="#2e2e2e" stroke-width="1.3"/>
<line x1="69.28" y1="762.82" x2="129.88" y2="762.82" stroke="#2e2e2e" stroke-width="1.3"/>
<line x1="86.34" y1="777.18" x2="134.54" y2="777.18" stroke="#2e2e2e" stroke-width="1.3"/>
<line x1="104.61" y1="792.14" x2="138.11" y2="792.14" stroke="#2e2e2e" stroke-width="1.3"/>
<line x1="161.49" y1="680.77" x2="169.09" y2="680.77" stroke="#2e2e2e" stroke-width="1.3"/>
<line x1="155.13" y1="638.01" x2="155.13" y2="826.01" stroke="#1e1e1e" stroke-width="7.20" stroke-dasharray="1.45 1.23"/>
<line x1="159.51" y1="641.93" x2="214.91" y2="641.93" stroke="#1e1e1e" stroke-width="7.10" stroke-dasharray="1.45 1.23"/>
<line x1="233.34" y1="580.01" x2="233.34" y2="611.31" stroke="#1e1e1e" stroke-width="7.30" stroke-dasharray="1.45 1.23"/>
<line x1="238.64" y1="584.15" x2="282.64" y2="584.15" stroke="#1e1e1e" stroke-width="6.10" stroke-dasharray="1.45 1.23"/>
<polygon points="283.64,576.50 289.94,583.50 283.64,590.50" fill="#0d0d0d"/>
<use href="#pump" transform="translate(217.28,613.75) scale(1.0016,1.0771)"/>
<rect x="10.65" y="454.75" width="292.30" height="412.90" fill="none" stroke="#0d0d0d" stroke-width="3"/>
</g>
<g transform="matrix(1,0.0038,-0.0047,1,3.116,-1.940)">
<line x1="366.32" y1="519.00" x2="654.32" y2="519.00" stroke="#2a2a2a" stroke-width="1.3"/>
<line x1="366.34" y1="523.20" x2="654.34" y2="523.20" stroke="#2a2a2a" stroke-width="1.3"/>
<text x="410.65" y="492.56" class="t" style="font-size:18.6px">两缸液体之热循环，</text>
<text x="428.07" y="516.63" class="t" style="font-size:18.6px">过滤及混合</text>
<rect x="367.37" y="829.00" width="288.50" height="39.50" fill="#cdcdcd"/>
<line x1="367.28" y1="829.00" x2="655.78" y2="829.00" stroke="#2a2a2a" stroke-width="1.6"/>
<line x1="367.34" y1="842.60" x2="655.84" y2="842.60" stroke="#2a2a2a" stroke-width="1.6"/>
<line x1="367.41" y1="855.80" x2="655.91" y2="855.80" stroke="#2a2a2a" stroke-width="1.6"/>
<line x1="376.31" y1="829.51" x2="376.31" y2="843.11" stroke="#2a2a2a" stroke-width="1.6"/>
<line x1="400.91" y1="829.42" x2="400.91" y2="843.02" stroke="#2a2a2a" stroke-width="1.6"/>
<line x1="425.51" y1="829.33" x2="425.51" y2="842.93" stroke="#2a2a2a" stroke-width="1.6"/>
<line x1="450.11" y1="829.23" x2="450.11" y2="842.83" stroke="#2a2a2a" stroke-width="1.6"/>
<line x1="474.71" y1="829.14" x2="474.71" y2="842.74" stroke="#2a2a2a" stroke-width="1.6"/>
<line x1="499.31" y1="829.05" x2="499.31" y2="842.65" stroke="#2a2a2a" stroke-width="1.6"/>
<line x1="523.91" y1="828.95" x2="523.91" y2="842.55" stroke="#2a2a2a" stroke-width="1.6"/>
<line x1="548.51" y1="828.86" x2="548.51" y2="842.46" stroke="#2a2a2a" stroke-width="1.6"/>
<line x1="573.11" y1="828.77" x2="573.11" y2="842.37" stroke="#2a2a2a" stroke-width="1.6"/>
<line x1="597.71" y1="828.67" x2="597.71" y2="842.27" stroke="#2a2a2a" stroke-width="1.6"/>
<line x1="622.31" y1="828.58" x2="622.31" y2="842.18" stroke="#2a2a2a" stroke-width="1.6"/>
<line x1="646.91" y1="828.48" x2="646.91" y2="842.08" stroke="#2a2a2a" stroke-width="1.6"/>
<line x1="385.48" y1="843.08" x2="385.48" y2="856.28" stroke="#2a2a2a" stroke-width="1.6"/>
<line x1="410.08" y1="842.98" x2="410.08" y2="856.18" stroke="#2a2a2a" stroke-width="1.6"/>
<line x1="434.68" y1="842.89" x2="434.68" y2="856.09" stroke="#2a2a2a" stroke-width="1.6"/>
<line x1="459.28" y1="842.80" x2="459.28" y2="856.00" stroke="#2a2a2a" stroke-width="1.6"/>
<line x1="483.88" y1="842.70" x2="483.88" y2="855.90" stroke="#2a2a2a" stroke-width="1.6"/>
<line x1="508.48" y1="842.61" x2="508.48" y2="855.81" stroke="#2a2a2a" stroke-width="1.6"/>
<line x1="533.08" y1="842.52" x2="533.08" y2="855.72" stroke="#2a2a2a" stroke-width="1.6"/>
<line x1="557.68" y1="842.42" x2="557.68" y2="855.62" stroke="#2a2a2a" stroke-width="1.6"/>
<line x1="582.28" y1="842.33" x2="582.28" y2="855.53" stroke="#2a2a2a" stroke-width="1.6"/>
<line x1="606.88" y1="842.24" x2="606.88" y2="855.44" stroke="#2a2a2a" stroke-width="1.6"/>
<line x1="631.48" y1="842.14" x2="631.48" y2="855.34" stroke="#2a2a2a" stroke-width="1.6"/>
<line x1="376.44" y1="856.31" x2="376.44" y2="869.01" stroke="#2a2a2a" stroke-width="1.6"/>
<line x1="401.04" y1="856.22" x2="401.04" y2="868.92" stroke="#2a2a2a" stroke-width="1.6"/>
<line x1="425.64" y1="856.13" x2="425.64" y2="868.83" stroke="#2a2a2a" stroke-width="1.6"/>
<line x1="450.24" y1="856.03" x2="450.24" y2="868.73" stroke="#2a2a2a" stroke-width="1.6"/>
<line x1="474.84" y1="855.94" x2="474.84" y2="868.64" stroke="#2a2a2a" stroke-width="1.6"/>
<line x1="499.44" y1="855.85" x2="499.44" y2="868.55" stroke="#2a2a2a" stroke-width="1.6"/>
<line x1="524.04" y1="855.75" x2="524.04" y2="868.45" stroke="#2a2a2a" stroke-width="1.6"/>
<line x1="548.64" y1="855.66" x2="548.64" y2="868.36" stroke="#2a2a2a" stroke-width="1.6"/>
<line x1="573.24" y1="855.57" x2="573.24" y2="868.27" stroke="#2a2a2a" stroke-width="1.6"/>
<line x1="597.84" y1="855.47" x2="597.84" y2="868.17" stroke="#2a2a2a" stroke-width="1.6"/>
<line x1="622.44" y1="855.38" x2="622.44" y2="868.08" stroke="#2a2a2a" stroke-width="1.6"/>
<line x1="647.04" y1="855.28" x2="647.04" y2="867.98" stroke="#2a2a2a" stroke-width="1.6"/>
<g transform="translate(0.301,0.289)">
<clipPath id="c4"><path d="M384.80,624.50 L384.80,808.50 Q384.80,828.50 404.80,828.50 L464.20,828.50 Q484.20,828.50 484.20,808.50 L484.20,624.50 Z"/></clipPath>
<rect x="383.80" y="651.50" width="101.40" height="178.00" fill="#cdcdcd" clip-path="url(#c4)"/>
<line x1="384.80" y1="651.50" x2="484.20" y2="651.50" stroke="#3a3a3a" stroke-width="1.3"/>
<path d="M384.80,624.50 L384.80,808.50 Q384.80,828.50 404.80,828.50 L464.20,828.50 Q484.20,828.50 484.20,808.50 L484.20,624.50" fill="none" stroke="#0d0d0d" stroke-width="2.0"/>
<line x1="381.05" y1="625.30" x2="388.55" y2="625.30" stroke="#0d0d0d" stroke-width="1.6"/>
<line x1="480.45" y1="625.30" x2="487.95" y2="625.30" stroke="#0d0d0d" stroke-width="1.6"/>
</g>
<g transform="translate(-0.056,0.188)"><rect x="454" y="650.6" width="14" height="0.9" fill="#fff"/><rect x="454" y="651.5" width="14" height="1" fill="#cdcdcd"/></g>
<line x1="392.47" y1="657.73" x2="452.57" y2="657.73" stroke="#2e2e2e" stroke-width="1.3"/>
<line x1="468.47" y1="657.55" x2="475.47" y2="657.55" stroke="#2e2e2e" stroke-width="1.3"/>
<line x1="416.02" y1="668.28" x2="455.22" y2="668.28" stroke="#2e2e2e" stroke-width="1.3"/>
<line x1="404.09" y1="681.82" x2="448.29" y2="681.82" stroke="#2e2e2e" stroke-width="1.3"/>
<line x1="406.23" y1="712.32" x2="446.83" y2="712.32" stroke="#2e2e2e" stroke-width="1.3"/>
<line x1="412.37" y1="742.62" x2="440.37" y2="742.62" stroke="#2e2e2e" stroke-width="1.3"/>
<line x1="421.57" y1="785.29" x2="450.07" y2="785.29" stroke="#2e2e2e" stroke-width="1.3"/>
<line x1="420.63" y1="797.30" x2="446.23" y2="797.30" stroke="#2e2e2e" stroke-width="1.3"/>
<g transform="translate(0.550,-0.351)"><path d="M568.1,729 L568.1,829.5 M638.5,729 L638.5,829.5" stroke="#2a2a2a" stroke-width="1.3" fill="none"/></g>
<g transform="translate(0.550,-0.351)"><path d="M573.1,829.5 L573.1,734 L633.2,734 L633.2,829.5" stroke="#2a2a2a" stroke-width="1.3" fill="none"/></g>
<g transform="translate(-0.031,-0.346)"><rect x="559.5" y="584.8" width="84.3" height="143.3" fill="#cdcdcd" stroke="#0d0d0d" stroke-width="2"/></g>
<g transform="translate(-0.031,-0.346)"><path d="M559.5,584.8 L643.8,728.1 M643.8,584.8 L559.5,728.1" stroke="#0d0d0d" stroke-width="1.2"/></g>
<line x1="427.28" y1="552.65" x2="593.98" y2="552.65" stroke="#1e1e1e" stroke-width="7.30" stroke-dasharray="1.45 1.23"/>
<line x1="600.14" y1="548.66" x2="600.14" y2="580.66" stroke="#1e1e1e" stroke-width="6.80" stroke-dasharray="1.45 1.23"/>
<line x1="432.29" y1="557.80" x2="432.29" y2="638.80" stroke="#1e1e1e" stroke-width="7.60" stroke-dasharray="1.45 1.23"/>
<polygon points="425.11,641.30 439.91,641.30 432.51,646.70" fill="#0d0d0d"/>
<line x1="461.42" y1="602.49" x2="461.42" y2="818.19" stroke="#1e1e1e" stroke-width="6.80" stroke-dasharray="1.45 1.23"/>
<line x1="465.74" y1="607.21" x2="494.34" y2="607.21" stroke="#1e1e1e" stroke-width="6.80" stroke-dasharray="1.45 1.23"/>
<line x1="500.62" y1="602.34" x2="500.62" y2="816.84" stroke="#1e1e1e" stroke-width="7.60" stroke-dasharray="1.45 1.23"/>
<line x1="505.71" y1="814.65" x2="518.61" y2="814.65" stroke="#1e1e1e" stroke-width="6.70" stroke-dasharray="1.45 1.23"/>
<line x1="536.57" y1="718.30" x2="536.57" y2="787.20" stroke="#1e1e1e" stroke-width="7.30" stroke-dasharray="1.45 1.23"/>
<line x1="531.74" y1="713.87" x2="557.24" y2="713.87" stroke="#1e1e1e" stroke-width="6.00" stroke-dasharray="1.45 1.23"/>
<use href="#pump" transform="translate(519.29,788.85) scale(1.0000,1.0000)"/>
<rect x="366.45" y="456.40" width="288.10" height="413.20" fill="none" stroke="#0d0d0d" stroke-width="3"/>
</g>
</svg>
</body></html>
